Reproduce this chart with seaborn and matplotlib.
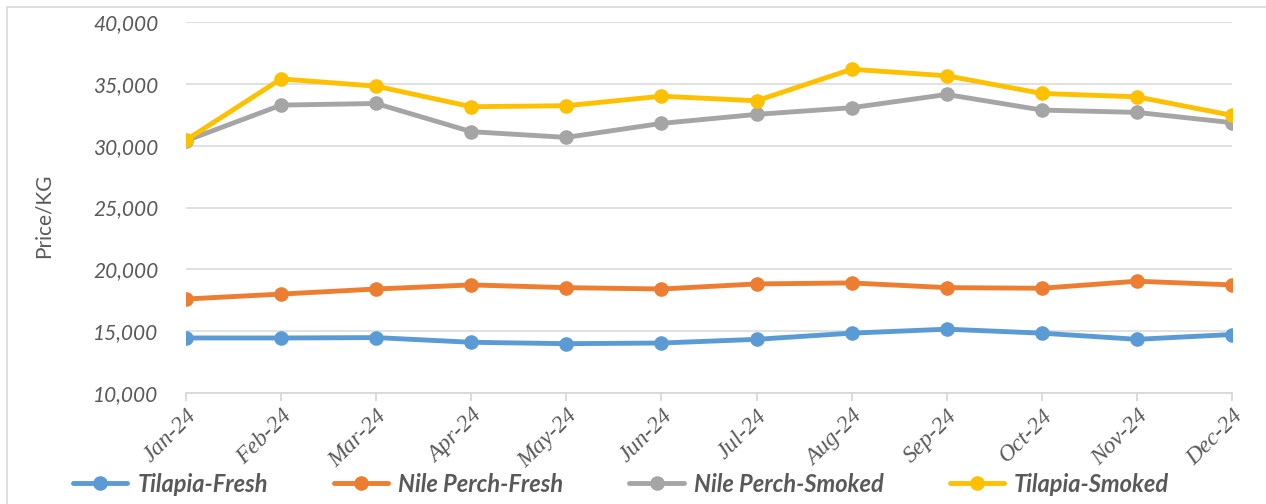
import matplotlib
matplotlib.use("Agg")
import matplotlib.pyplot as plt
import seaborn as sns
import pandas as pd
from matplotlib.patches import Rectangle

months = ["Jan-24", "Feb-24", "Mar-24", "Apr-24", "May-24", "Jun-24",
          "Jul-24", "Aug-24", "Sep-24", "Oct-24", "Nov-24", "Dec-24"]
tilapia_fresh = [14450, 14450, 14480, 14100, 13990, 14040, 14340, 14840, 15160, 14840, 14340, 14730]
nile_perch_fresh = [17600, 18000, 18410, 18740, 18520, 18410, 18820, 18900, 18520, 18470, 19040, 18740]
nile_perch_smoked = [30400, 33280, 33410, 31130, 30670, 31800, 32530, 33070, 34140, 32880, 32690, 31860]
tilapia_smoked = [30450, 35400, 34810, 33150, 33230, 34000, 33630, 36180, 35650, 34220, 33950, 32450]
series_names = ["Tilapia-Fresh", "Nile Perch-Fresh", "Nile Perch-Smoked", "Tilapia-Smoked"]
colors = ["#5B9BD5", "#ED7D31", "#A5A5A5", "#FFC000"]
y_ticks = [10000, 15000, 20000, 25000, 30000, 35000, 40000]

sns.set_theme(style="white")
plt.rcParams["font.family"] = ["Lato", "DejaVu Sans"]

rows = []
for name, vals in zip(series_names, [tilapia_fresh, nile_perch_fresh, nile_perch_smoked, tilapia_smoked]):
    for m, v in zip(months, vals):
        rows.append({"month": m, "price": v, "series": name})
df = pd.DataFrame(rows)

W, H = 1266, 504
fig = plt.figure(figsize=(W / 100, H / 100), dpi=100)
ax = fig.add_axes([186 / W, 1 - 393 / H, (1232 - 186) / W, (393 - 22) / H])

sns.lineplot(data=df, x="month", y="price", hue="series", hue_order=series_names,
             palette=colors, marker="o", markersize=10.5, markeredgewidth=0,
             linewidth=3.5, sort=False, ax=ax, legend=True)

ax.set_xlim(0, 11)
ax.set_ylim(10000, 40000)
ax.set_yticks(y_ticks)
ax.set_yticklabels([f"{t:,}" for t in y_ticks], fontstyle="italic", fontsize=15, color="#595959")
ax.grid(axis="y", color="#D9D9D9", linewidth=1.1)
ax.set_axisbelow(True)
for s in ["top", "right", "left"]:
    ax.spines[s].set_visible(False)
ax.spines["bottom"].set_color("#D9D9D9")
ax.spines["bottom"].set_linewidth(1.3)
ax.tick_params(axis="y", length=0, pad=20)
ax.tick_params(axis="x", length=6, width=1.3, color="#D9D9D9", direction="out", bottom=True, pad=3)
ax.set_xticks(range(len(months)))
ax.set_xticklabels(months, rotation=45, ha="right", rotation_mode="anchor",
                   family=["Liberation Serif"], fontstyle="italic", fontsize=17, color="#595959")
ax.set_xlabel("")
ax.set_ylabel("")
fig.text(44 / W, 1 - 216 / H, "Price/KG", rotation=90, ha="center", va="center",
         fontsize=15, color="#595959")

handles, labels = ax.get_legend_handles_labels()
ax.get_legend().remove()
leg = fig.legend(handles, labels, loc="center", bbox_to_anchor=(621 / W, 1 - 484 / H),
                 ncol=4, frameon=False, handlelength=2.3, handletextpad=0.42,
                 columnspacing=2.8, prop={"family": "Lato", "weight": "bold", "style": "italic", "size": 17})
for t in leg.get_texts():
    t.set_color("#595959")

fig.add_artist(Rectangle((7 / W, -0.1), 1.2, 1.1 - 7 / H, transform=fig.transFigure,
                         fill=False, edgecolor="#D9D9D9", linewidth=1.2))

fig.savefig("out.png", dpi=100)
